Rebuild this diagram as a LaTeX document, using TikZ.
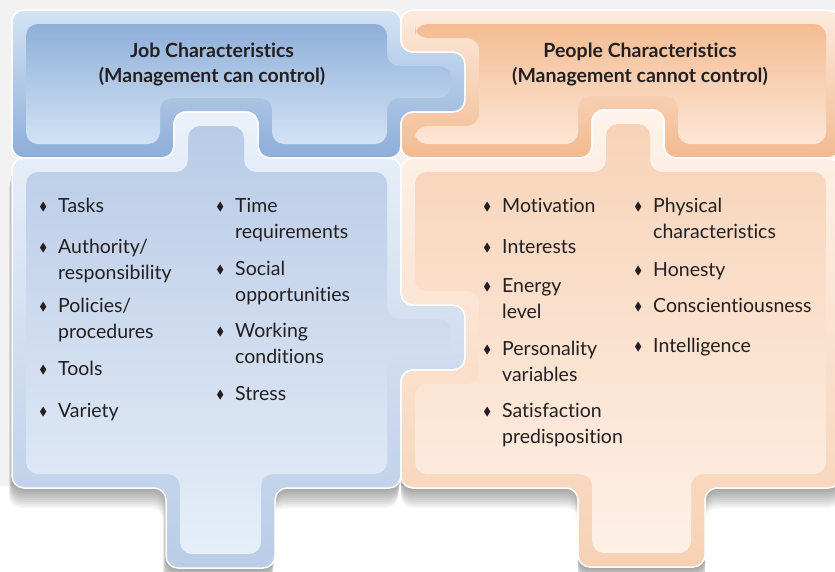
\documentclass[tikz,border=0pt]{standalone}
\usepackage{amssymb}
\usepackage{fontspec}
\setmainfont[Ligatures={NoCommon}]{Lato}
\usetikzlibrary{positioning}

\definecolor{ink}{HTML}{231F20}
\definecolor{jobHeadOutTop}{HTML}{D3E4F4}
\definecolor{jobHeadOutBot}{HTML}{8DADD8}
\definecolor{jobHeadInTop}{HTML}{8FAFD9}
\definecolor{jobHeadInBot}{HTML}{D2E3F4}
\definecolor{pplHeadOutTop}{HTML}{FDEBDF}
\definecolor{pplHeadOutBot}{HTML}{F2BA90}
\definecolor{pplHeadInTop}{HTML}{F3BC93}
\definecolor{pplHeadInBot}{HTML}{FDE6D6}
\definecolor{jobListOutTop}{HTML}{EAF1FA}
\definecolor{jobListOutBot}{HTML}{BACCE7}
\definecolor{jobListInTop}{HTML}{B9CBE7}
\definecolor{jobListInBot}{HTML}{E6EEF8}
\definecolor{pplListOutTop}{HTML}{FEF3EB}
\definecolor{pplListOutBot}{HTML}{F7D1B4}
\definecolor{pplListInTop}{HTML}{F7D3B8}
\definecolor{pplListInBot}{HTML}{FEF0E6}

% puzzle piece outlines, #1 = inset of the panel
\newcommand{\jobtop}[1]{(12+#1,10+#1) -- (401-#1,10+#1) -- (401-#1,52+#1) -- (465-#1,52+#1) -- (465-#1,112-#1) -- (401-#1,112-#1) -- (401-#1,158-#1) -- (258+#1,158-#1) -- (258+#1,112-#1) -- (174-#1,112-#1) -- (174-#1,158-#1) -- (12+#1,158-#1) -- cycle}
\newcommand{\peopletop}[1]{(401+#1,10+#1) -- (840-#1,10+#1) -- (840-#1,158-#1) -- (664+#1,158-#1) -- (664+#1,110-#1) -- (592-#1,110-#1) -- (592-#1,158-#1) -- (401+#1,158-#1) -- (401+#1,112+#1) -- (465+#1,112+#1) -- (465+#1,52-#1) -- (401+#1,52-#1) -- cycle}
\newcommand{\joblist}[1]{(12+#1,158+#1) -- (174+#1,158+#1) -- (174+#1,112+#1) -- (258-#1,112+#1) -- (258-#1,158+#1) -- (401-#1,158+#1) -- (401-#1,305+#1) -- (465-#1,305+#1) -- (465-#1,370-#1) -- (401-#1,370-#1) -- (401-#1,488-#1) -- (275-#1,488-#1) -- (275-#1,568-#1) -- (166+#1,568-#1) -- (166+#1,488-#1) -- (12+#1,488-#1) -- cycle}
\newcommand{\peoplelist}[1]{(401+#1,158+#1) -- (592+#1,158+#1) -- (592+#1,110+#1) -- (664-#1,110+#1) -- (664-#1,158+#1) -- (840-#1,158+#1) -- (840-#1,488-#1) -- (705-#1,488-#1) -- (705-#1,567-#1) -- (578+#1,567-#1) -- (578+#1,488-#1) -- (401+#1,488-#1) -- (401+#1,370+#1) -- (465+#1,370+#1) -- (465+#1,305-#1) -- (401+#1,305-#1) -- cycle}

\newcommand{\bul}{\llap{\raisebox{1.3pt}{\scalebox{0.6}{$\blacklozenge$}}\hspace{11pt}}}

\begin{document}
\begin{tikzpicture}[
		x=1pt, y=-1pt,
		piece/.style={rounded corners=12pt},
		edge/.style={piece, draw=white, line width=1.5pt},
		head/.style={anchor=base, align=center, inner sep=0pt, text=ink, font=\bfseries\fontsize{19.5}{25}\selectfont},
		item/.style={anchor=base west, align=left, inner sep=0pt, text=ink, font=\fontsize{19.5}{26}\selectfont}
		]
		
		\clip (0,0) rectangle (835,571);
		\fill[white] (0,0) rectangle (835,571);
		\fill[black!5] (0,0) rectangle (835,486);
		
		% === SHADOW ===
		\foreach \s in {1,...,10} {
			\fill[black, opacity=0.04, piece, shift={(-0.3*\s,2*\s)}] \joblist{0};
			\fill[black, opacity=0.04, piece, shift={(0,2*\s)}] \peoplelist{0};
		}
		
		% === JOB PIECES ===
		\shade[piece, top color=jobHeadOutTop, bottom color=jobHeadOutBot] \jobtop{0};
		\shade[piece, top color=jobHeadInTop, bottom color=jobHeadInBot] \jobtop{14};
		\draw[edge] \jobtop{0};
		
		\shade[piece, top color=jobListOutTop, bottom color=jobListOutBot] \joblist{0};
		\shade[piece, top color=jobListInTop, bottom color=jobListInBot] \joblist{14};
		\draw[edge] \joblist{0};
		
		% === PEOPLE PIECES ===
		\shade[piece, top color=pplHeadOutTop, bottom color=pplHeadOutBot] \peopletop{0};
		\shade[piece, top color=pplHeadInTop, bottom color=pplHeadInBot] \peopletop{14};
		\draw[edge] \peopletop{0};
		
		\shade[piece, top color=pplListOutTop, bottom color=pplListOutBot] \peoplelist{0};
		\shade[piece, top color=pplListInTop, bottom color=pplListInBot] \peoplelist{14};
		\draw[edge] \peoplelist{0};
		
		% === TITLES ===
		% multi-line nodes sit on the baseline of their last line
		\node[head] (jobtitle) at (212,82) {Job Characteristics\\(Management can control)};
		\node[head] (peopletitle) at (640,82) {People Characteristics\\(Management cannot control)};
		
		% === JOB CHARACTERISTICS ===
		\foreach \name/\y/\txt in {tasks/212/Tasks, authority/279/{Authority/\\responsibility},
			policies/338/{Policies/\\procedures}, tools/375/Tools, variety/417/Variety} {
			\node[item] (\name) at (58,\y) {\bul\txt};
		}
		\foreach \name/\y/\txt in {timereq/238/{Time\\requirements}, social/301/{Social\\opportunities},
			working/363/{Working\\conditions}, stress/400/Stress} {
			\node[item] (\name) at (235,\y) {\bul\txt};
		}
		
		% === PEOPLE CHARACTERISTICS ===
		\foreach \name/\y/\txt in {motivation/212/Motivation, interests/253/Interests,
			energy/318/{Energy\\level}, personality/381/{Personality\\variables},
			satisfaction/443/{Satisfaction\\predisposition}} {
			\node[item] (\name) at (502,\y) {\bul\txt};
		}
		\foreach \name/\y/\txt in {physical/238/{Physical\\characteristics}, honesty/276/Honesty,
			conscient/312/Conscientiousness, intelligence/352/Intelligence} {
			\node[item] (\name) at (653,\y) {\bul\txt};
		}
		
	\end{tikzpicture}
\end{document}
